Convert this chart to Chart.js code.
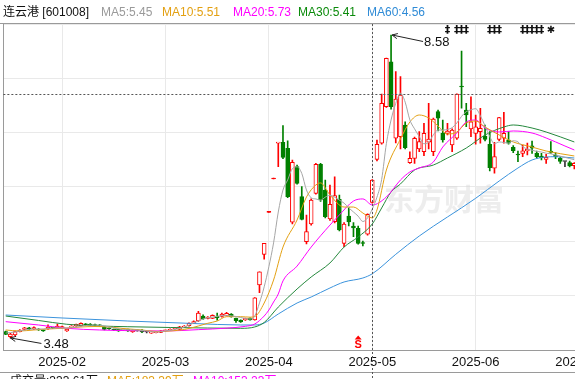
<!DOCTYPE html>
<html><head><meta charset="utf-8">
<script src="https://cdn.jsdelivr.net/npm/chart.js@4/dist/chart.umd.min.js"></script>
<style>
html,body{margin:0;padding:0;background:#fff;overflow:hidden;width:575px;height:379px;}
#wrap{position:relative;width:575px;height:379px;overflow:hidden;background:#fff;}
#c{position:absolute;left:0;top:0;}
.hdr{position:absolute;top:5px;line-height:14px;font-size:12px;font-family:"Liberation Sans","Noto Sans CJK SC",sans-serif;white-space:nowrap;}
.low{position:absolute;top:374px;line-height:14px;font-size:12px;font-family:"Liberation Sans","Noto Sans CJK SC",sans-serif;white-space:nowrap;}
</style></head>
<body><div id="wrap"><canvas id="c" width="640" height="379"></canvas>
<div class="hdr" style="left:3px;color:#111">连云港 [601008]</div>
<div class="hdr" style="left:101px;color:#9a9a9a">MA5:5.45</div>
<div class="hdr" style="left:162px;color:#e3a012">MA10:5.51</div>
<div class="hdr" style="left:233px;color:#ff00ff">MA20:5.73</div>
<div class="hdr" style="left:298px;color:#0a8a0a">MA30:5.41</div>
<div class="hdr" style="left:367px;color:#2f8bd6">MA60:4.56</div>
<div class="low" style="left:10px;color:#111">成交量:333.61万</div>
<div class="low" style="left:107px;color:#e3a012">MA5:183.39万</div>
<div class="low" style="left:193px;color:#ff00ff">MA10:153.23万</div>
</div>
<script>
// ---- data ----
const openP = [3.585,3.501,3.529,3.585,3.625,3.650,3.630,3.630,3.615,3.630,3.650,3.647,3.647,3.597,3.660,3.681,3.681,3.715,3.715,3.705,
3.700,3.669,3.645,3.625,3.625,3.615,3.625,3.585,3.610,3.614,3.580,3.560,3.570,3.575,3.600,3.610,3.630,3.625,3.660,3.686,
3.727,3.765,3.849,3.810,3.810,3.850,3.841,3.855,3.880,3.810,3.780,3.782,3.815,3.782,4.371,4.888,5.595,6.156,6.760,6.774,
6.673,5.427,6.363,5.858,5.100,5.398,5.915,6.403,5.971,5.482,5.437,5.814,5.073,5.533,5.364,5.326,5.080,5.225,5.763,6.487,
6.757,7.373,8.130,6.841,6.868,7.065,6.430,6.504,6.661,6.615,6.774,6.615,7.289,6.925,6.925,6.728,6.841,7.721,7.317,6.998,
6.925,6.952,6.880,6.740,6.336,6.820,6.841,6.812,6.689,6.570,6.588,6.627,6.716,6.588,6.543,6.487,6.627,6.560,6.504,6.450,
6.430,6.380];
const closeP = [3.541,3.546,3.585,3.614,3.652,3.630,3.655,3.614,3.600,3.664,3.645,3.681,3.670,3.625,3.680,3.710,3.727,3.700,3.695,3.690,
3.685,3.625,3.635,3.614,3.597,3.625,3.597,3.614,3.600,3.580,3.580,3.585,3.585,3.600,3.605,3.625,3.648,3.669,3.681,3.727,
3.757,3.900,3.800,3.830,3.861,3.816,3.883,3.895,3.840,3.770,3.750,3.810,3.785,4.157,4.595,5.073,5.595,6.156,6.774,6.521,
5.858,6.437,6.083,5.477,5.269,5.802,6.403,5.802,5.521,5.730,5.875,5.297,5.398,5.432,5.331,5.073,5.070,5.561,6.139,6.740,
7.430,8.188,7.373,7.503,7.570,6.683,6.504,6.841,6.784,6.925,6.829,7.166,7.178,6.812,6.964,6.981,7.587,7.705,7.233,7.120,
7.036,7.009,6.824,6.346,6.531,7.188,6.925,6.757,6.632,6.560,6.632,6.656,6.673,6.531,6.514,6.521,6.605,6.530,6.450,6.450,
6.375,6.420];
const highP = [3.595,3.556,3.595,3.620,3.660,3.660,3.665,3.636,3.620,3.700,3.655,3.715,3.680,3.630,3.690,3.715,3.735,3.720,3.720,3.712,
3.705,3.675,3.650,3.630,3.630,3.632,3.630,3.620,3.615,3.620,3.590,3.590,3.592,3.605,3.612,3.632,3.655,3.675,3.690,3.735,
3.770,3.930,3.870,3.840,3.870,3.900,3.900,3.910,3.890,3.815,3.785,3.815,3.820,4.160,4.595,5.073,5.595,6.156,6.774,7.053,
6.800,6.476,6.391,6.026,5.550,5.820,6.420,6.420,6.139,6.055,6.194,5.886,5.420,5.673,5.420,5.364,5.110,5.570,6.145,6.812,
7.587,8.190,8.580,7.962,7.878,7.120,6.615,6.860,6.952,7.093,7.430,7.180,7.317,7.149,7.093,7.000,7.590,8.311,7.430,7.541,
7.233,7.346,7.065,6.952,6.774,7.195,7.279,6.952,6.720,6.627,6.728,6.762,6.795,6.627,6.588,6.572,6.784,6.600,6.530,6.450,
6.459,6.430];
const lowP = [3.535,3.480,3.520,3.580,3.615,3.620,3.620,3.605,3.590,3.625,3.635,3.640,3.640,3.590,3.650,3.675,3.675,3.695,3.690,3.680,
3.675,3.615,3.625,3.605,3.590,3.605,3.590,3.575,3.595,3.570,3.565,3.555,3.565,3.570,3.595,3.605,3.625,3.620,3.655,3.680,
3.720,3.760,3.790,3.800,3.805,3.780,3.830,3.850,3.830,3.740,3.740,3.775,3.780,3.780,4.242,4.804,5.595,6.156,6.363,6.500,
5.840,5.398,6.070,5.466,5.061,5.380,5.900,5.780,5.500,5.460,5.415,5.280,5.016,5.364,5.184,5.060,5.030,5.210,5.750,6.459,
6.740,7.360,7.330,6.762,6.661,6.660,6.420,6.420,6.615,6.548,6.661,6.548,6.964,6.774,6.897,6.615,6.820,7.346,7.036,6.868,
6.740,6.757,6.795,6.290,6.252,6.800,6.757,6.740,6.600,6.447,6.531,6.560,6.588,6.504,6.476,6.420,6.588,6.500,6.420,6.363,
6.360,6.324];

// moving-average lines, read as [candle index, value] points
const ma5 = [[0,3.563],[2,3.58],[4,3.614],[6,3.63],[8,3.63],[10,3.647],[13,3.647],[15,3.664],[17,3.689],[19,3.698],[21,3.681],[23,3.647],
[25,3.622],[28,3.614],[30,3.597],[32,3.58],[34,3.597],[36,3.622],[38,3.664],[40,3.731],[42,3.799],[44,3.832],[47,3.858],[49,3.841],[51,3.807],
[52,3.80],[53,3.85],[54,4.07],[55,4.34],[56,4.68],[57,5.08],[58,5.60],[59,5.97],[60,6.14],[61,6.33],[62,6.36],[63,6.25],[64,5.97],[65,5.84],
[66,5.82],[67,5.80],[68,5.85],[69,5.88],[70,5.85],[71,5.80],[72,5.75],[73,5.67],[74,5.60],[75,5.53],[76,5.44],[77,5.50],[78,5.65],[79,5.85],
[80,6.15],[81,6.75],[82,7.15],[83,7.43],[84,7.60],[85,7.45],[86,7.15],[87,7.00],[88,6.87],[89,6.75],[90,6.77],[91,6.90],[92,6.98],[93,6.98],
[94,6.99],[95,7.02],[96,7.10],[97,7.21],[98,7.29],[99,7.32],[100,7.34],[101,7.22],[102,7.05],[103,6.87],[104,6.75],[105,6.78],[106,6.77],
[107,6.76],[108,6.80],[109,6.78],[110,6.70],[111,6.66],[112,6.64],[113,6.62],[114,6.61],[115,6.59],[116,6.58],[117,6.56],[118,6.54],[119,6.52],
[120,6.50],[121,6.48]];
const ma10 = [[0,3.614],[3,3.597],[6,3.614],[9,3.630],[13,3.647],[16,3.664],[19,3.672],[22,3.664],[25,3.639],[29,3.614],[32,3.589],[35,3.597],
[38,3.622],[41,3.681],[43,3.727],[45,3.765],[47,3.838],[50,3.838],[52,3.830],[53,3.840],[55,4.068],[57,4.455],[59,5.01],[62,5.466],[64,5.853],
[66,6.055],[67,6.089],[69,5.886],[72,5.684],[74,5.684],[76,5.583],[78,5.50],[79,5.634],[81,6.307],[84,6.829],[86,7.115],[88,7.233],[90,7.183],
[92,7.048],[94,6.913],[96,6.947],[98,7.098],[100,7.132],[102,7.031],[105,6.897],[108,6.779],[112,6.694],[115,6.627],[121,6.543]];
const ma20 = [[0,3.754],[7,3.698],[13,3.642],[20,3.614],[27,3.602],[34,3.597],[41,3.62],[47,3.645],[51,3.675],[53,3.715],[55,3.849],[56,3.95],
[57,4.085],[58,4.22],[59,4.44],[62,4.69],[65,5.01],[69,5.38],[71,5.55],[74,5.785],[76,5.82],[78,5.718],[81,5.853],[84,6.139],[86,6.274],
[88,6.341],[91,6.442],[93,6.694],[96,6.93],[98,7.115],[100,7.149],[102,7.014],[105,6.947],[108,6.964],[112,6.93],[115,6.846],[119,6.711],[121,6.644]];
const ma30 = [[0,3.849],[7,3.774],[13,3.71],[20,3.681],[26,3.669],[35,3.656],[43,3.647],[50,3.642],[53,3.665],[55,3.74],[58,4.00],[62,4.304],
[65,4.506],[69,4.742],[72,5.01],[75,5.18],[78,5.398],[80,5.668],[82,5.937],[84,6.072],[87,6.307],[91,6.391],[94,6.509],[98,6.677],[102,6.896],
[106,7.031],[108,7.065],[112,7.014],[115,6.947],[121,6.779]];
const ma60 = [[0,3.866],[12,3.816],[26,3.765],[40,3.723],[50,3.698],[53,3.698],[55,3.731],[58,3.883],[62,4.068],[65,4.169],[69,4.321],[72,4.422],
[76,4.489],[78,4.56],[83,4.888],[88,5.196],[100,5.831],[105,6.122],[109,6.341],[112,6.476],[115,6.526],[117,6.531],[121,6.509]];

const xTickIdx = [12,34,56,78,100,122];
const xTickLabels = ['2025-02','2025-03','2025-04','2025-05','2025-06','2025-07'];
const yMin = 3.277, yMax = 8.765;
const noticeIdx = [94,96,97,98,103,104,105,110,111,112,113,114];
const starIdx = [116];
const signalIdx = 75;          // red "S" signal
const crossIdx = 78, crossPrice = 7.59;   // crosshair

// ---- build ----
const N = openP.length;
const UP='#ff0000', DOWN='#008000', FLAT='#333333';
function candleColor(i){
  if (closeP[i] > openP[i]) return UP;
  if (closeP[i] < openP[i]) return DOWN;
  const prev = i>0 ? closeP[i-1] : closeP[i];
  return closeP[i] > prev ? UP : (closeP[i] < prev ? DOWN : FLAT);
}
const cols = openP.map((_,i)=>candleColor(i));
const bodyFill = cols.map((c,i)=> (c===UP && closeP[i]!==openP[i]) ? '#ffffff' : c);
const bodies = openP.map((o,i)=>({x:i, y:[o, closeP[i]]}));
const wicks = openP.map((o,i)=>({x:i, y:[lowP[i], highP[i]]}));
const toPts = a => a.map(p=>({x:p[0], y:p[1]}));
function maSet(label, pts, color){
  return {type:'line', label, data:toPts(pts), borderColor:color, borderWidth:1, pointRadius:0,
          cubicInterpolationMode:'monotone', order:0, fill:false};
}

const annot = {
  id:'annot',
  beforeDatasetsDraw(chart){
    const ctx = chart.ctx;
    ctx.save();
    ctx.fillStyle = 'rgba(215,215,215,0.45)';
    ctx.font = 'bold 30px "Noto Sans CJK SC"';
    ctx.textBaseline = 'middle';
    ctx.fillText('东方财富', 384, 199);
    ctx.restore();
  },
  afterDraw(chart){
    const ctx = chart.ctx, xs = chart.scales.x, ys = chart.scales.y, ca = chart.chartArea;
    ctx.save();
    // frame lines
    ctx.strokeStyle = '#9a9a9a'; ctx.lineWidth = 1;
    ctx.beginPath(); ctx.moveTo(0, 23.5); ctx.lineTo(640, 23.5); ctx.stroke();
    ctx.beginPath(); ctx.moveTo(Math.round(ca.left)+0.5, 24); ctx.lineTo(Math.round(ca.left)+0.5, 350); ctx.stroke();
    ctx.beginPath(); ctx.moveTo(0, 372.5); ctx.lineTo(640, 372.5); ctx.stroke();
    // crosshair
    ctx.strokeStyle = '#555'; ctx.setLineDash([2,2]);
    const cx = Math.round(xs.getPixelForValue(crossIdx))+0.5;
    ctx.beginPath(); ctx.moveTo(cx, 24); ctx.lineTo(cx, 379); ctx.stroke();
    const cy = Math.round(ys.getPixelForValue(crossPrice))+0.5;
    ctx.beginPath(); ctx.moveTo(ca.left, cy); ctx.lineTo(640, cy); ctx.stroke();
    ctx.setLineDash([]);
    // max / min annotations
    let hi=0, lo=0;
    for (let i=0;i<N;i++){ if (highP[i]>highP[hi]) hi=i; if (lowP[i]<lowP[lo]) lo=i; }
    function arrow(x0,y0,x1,y1){
      ctx.strokeStyle='#222'; ctx.lineWidth=1;
      ctx.beginPath(); ctx.moveTo(x0,y0); ctx.lineTo(x1,y1); ctx.stroke();
      const a = Math.atan2(y1-y0, x1-x0);
      ctx.beginPath();
      ctx.moveTo(x0+6*Math.cos(a+0.45), y0+6*Math.sin(a+0.45)); ctx.lineTo(x0,y0);
      ctx.lineTo(x0+6*Math.cos(a-0.45), y0+6*Math.sin(a-0.45)); ctx.stroke();
    }
    ctx.font = '13px "Liberation Sans"'; ctx.fillStyle='#111'; ctx.textBaseline='middle'; ctx.textAlign='left';
    const hx = xs.getPixelForValue(hi), hy = ys.getPixelForValue(highP[hi]);
    arrow(hx+1, hy, hx+32, hy+6.5);
    ctx.fillText(highP[hi].toFixed(2), hx+33, hy+7);
    const lx = xs.getPixelForValue(lo), ly = ys.getPixelForValue(lowP[lo]);
    arrow(lx, ly, lx+31, ly+5.5);
    ctx.fillText(lowP[lo].toFixed(2), lx+33, ly+6.5);
    // notice markers
    ctx.fillStyle='#111'; ctx.textAlign='center'; ctx.font='bold 11px "DejaVu Sans"';
    noticeIdx.forEach(i=>ctx.fillText('‡', xs.getPixelForValue(i), 30));
    ctx.font='bold 10px "DejaVu Sans"';
    starIdx.forEach(i=>ctx.fillText('✱', xs.getPixelForValue(i), 30));
    // signal S
    const sx = xs.getPixelForValue(signalIdx);
    ctx.fillStyle='#ff0000';
    ctx.beginPath(); ctx.moveTo(sx, 335.5); ctx.lineTo(sx+3.5, 339.5); ctx.lineTo(sx-3.5, 339.5); ctx.closePath(); ctx.fill();
    ctx.font='bold 11px "Liberation Sans"';
    ctx.fillText('S', sx, 345);
    ctx.restore();
  }
};

new Chart(document.getElementById('c'), {
  type:'bar',
  data:{ datasets:[
    maSet('MA5', ma5, '#a6a6a6'),
    maSet('MA10', ma10, '#e3a012'),
    maSet('MA20', ma20, '#ff00ff'),
    maSet('MA30', ma30, '#24883c'),
    maSet('MA60', ma60, '#3b93dc'),
    {type:'bar', label:'body', data:bodies, backgroundColor:bodyFill, borderColor:cols, borderWidth:1,
     borderSkipped:false, grouped:false, barThickness:4, maxBarThickness:4, minBarLength:1, order:1},
    {type:'bar', label:'wick', data:wicks, backgroundColor:cols, borderWidth:0,
     borderSkipped:false, grouped:false, barThickness:1, maxBarThickness:1, minBarLength:1, order:2}
  ]},
  options:{
    responsive:false, animation:false, devicePixelRatio:1, events:[],
    layout:{padding:{left:3.35, right:63.3, top:24, bottom:3.4}},
    plugins:{legend:{display:false}, tooltip:{enabled:false}},
    scales:{
      x:{type:'linear', min:-0.5, max:N-0.5, offset:false,
         grid:{color:'#e9e9e9', drawTicks:false, offset:false},
         border:{color:'#9a9a9a', width:1},
         ticks:{autoSkip:false, maxRotation:0, padding:5, color:'#111',
                font:{family:'Liberation Sans', size:13},
                callback:(v)=>{const k=xTickIdx.indexOf(v); return k>=0?xTickLabels[k]:'';}},
         afterBuildTicks:s=>{s.ticks = xTickIdx.map(v=>({value:v}));}},
      y:{type:'linear', min:yMin, max:yMax, beginAtZero:false,
         grid:{color:'#e9e9e9', drawTicks:false},
         border:{display:false},
         ticks:{display:false},
         afterBuildTicks:s=>{const t=[]; for(let k=0;k<=6;k++) t.push({value:yMin+(yMax-yMin)*k/6}); s.ticks=t;},
         afterFit:s=>{s.width=0;}}
    }
  },
  plugins:[annot]
});
</script>
</body></html>
